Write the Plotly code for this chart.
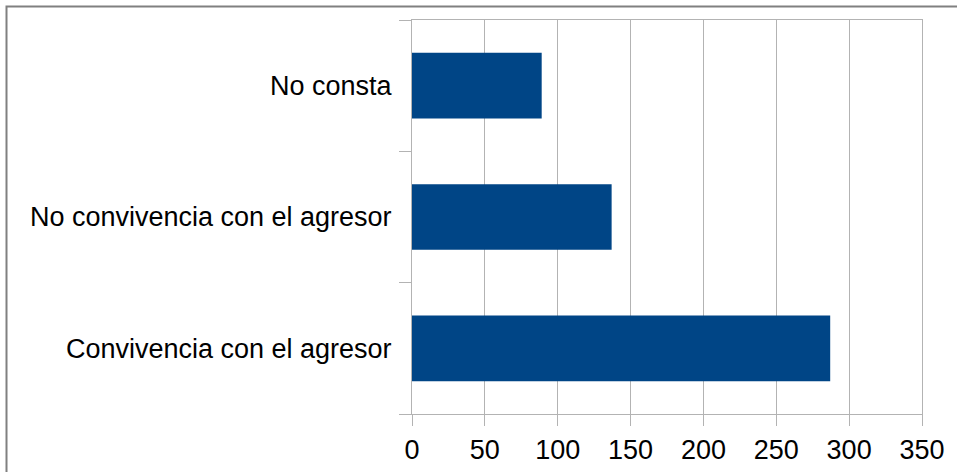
import plotly.graph_objects as go

categories = ["Convivencia con el agresor", "No convivencia con el agresor", "No consta"]
values = [287, 137, 89]
x_ticks = [0, 50, 100, 150, 200, 250, 300, 350]

W, H = 957, 472
L, R, T, B = 412, 922, 20, 414

fig = go.Figure(go.Bar(
    y=categories, x=values, orientation="h",
    marker=dict(color="#004586", line=dict(width=0)),
    width=0.5,
))

grid = "#b3b3b3"
fig.update_layout(
    width=W, height=H,
    margin=dict(l=L, r=W - R, t=T, b=H - B, pad=0),
    paper_bgcolor="white", plot_bgcolor="white",
    font=dict(family="Liberation Sans", size=27, color="black"),
    showlegend=False,
    xaxis=dict(range=[0, 350], tickvals=x_ticks, showgrid=True, gridcolor=grid, gridwidth=1,
               showline=True, linecolor=grid, linewidth=1, mirror=True,
               ticks="outside", ticklen=11, tickcolor=grid, zeroline=False,
               ticklabelstandoff=1, automargin=False),
    yaxis=dict(type="category", categoryorder="array", categoryarray=categories,
               showgrid=False, showline=True, linecolor=grid, linewidth=1, mirror=True,
               ticks="outside", tickson="boundaries", ticklen=12, tickcolor=grid,
               ticklabelstandoff=14, automargin=False),
    shapes=[dict(type="rect", xref="paper", yref="paper",
                 x0=(6.5 - L) / (R - L), x1=(970 - L) / (R - L),
                 y0=(B - 485) / (B - T), y1=1 + (T - 6.5) / (B - T),
                 line=dict(color="#808080", width=2), fillcolor="rgba(0,0,0,0)")],
)

fig.write_html("out.html", config={"displayModeBar": False},
               post_script="document.body.style.margin='0';")
